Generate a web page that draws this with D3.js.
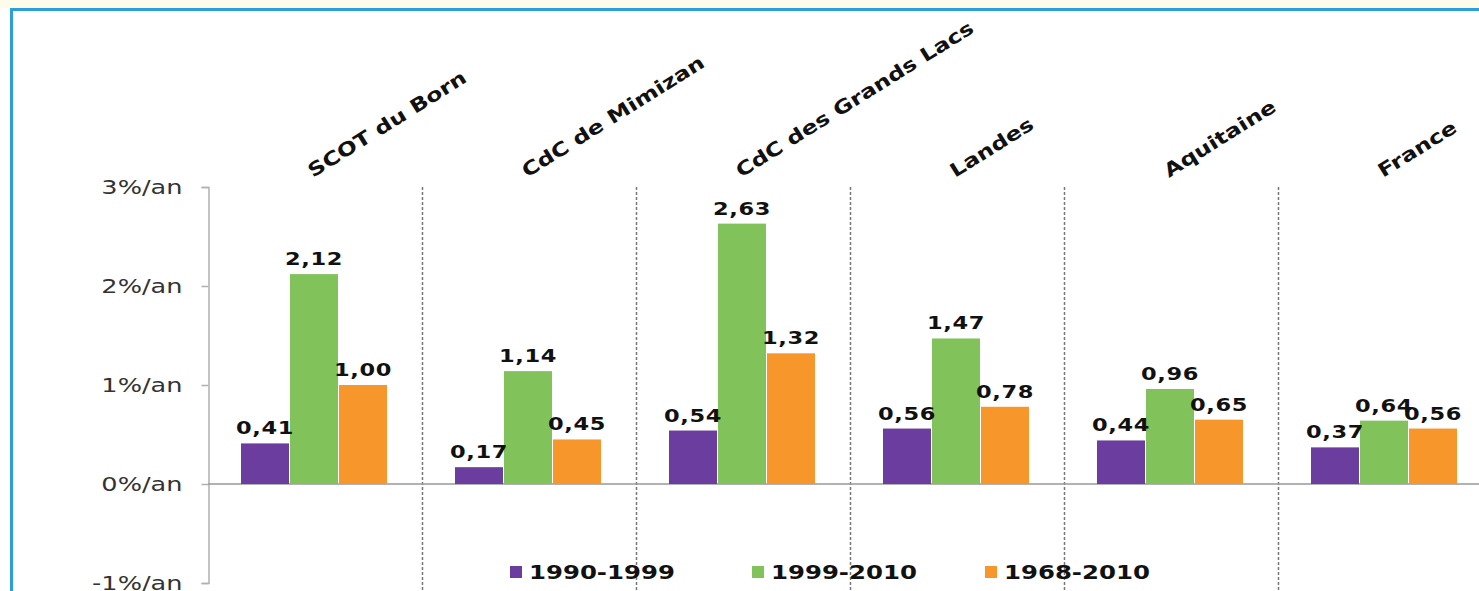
<!DOCTYPE html>
<html>
<head>
<meta charset="utf-8">
<script src="https://cdnjs.cloudflare.com/ajax/libs/d3/7.8.5/d3.min.js"></script>
<style>
  html, body { margin: 0; padding: 0; background: #fff; }
  svg { display: block; }
</style>
</head>
<body>
<div id="chart"></div>
<script>
// données
const categories = ["SCOT du Born", "CdC de Mimizan", "CdC des Grands Lacs", "Landes", "Aquitaine", "France"];
const series = ["1990-1999", "1999-2010", "1968-2010"];
const v1990_1999 = [0.41, 0.17, 0.54, 0.56, 0.44, 0.37];
const v1999_2010 = [2.12, 1.14, 2.63, 1.47, 0.96, 0.64];
const v1968_2010 = [1.00, 0.45, 1.32, 0.78, 0.65, 0.56];
const yTicks = [-1, 0, 1, 2, 3];
const colors = ["#6a3d9e", "#82c25a", "#f7962b"];

const values = [v1990_1999, v1999_2010, v1968_2010];
const W = 1479, H = 591;
const font = "'DejaVu Sans', Verdana, sans-serif";
const sx = 1.25; // le texte de l'original est étiré en largeur
const legendX = [510, 752, 985];

const svg = d3.select("#chart").append("svg")
    .attr("width", W)
    .attr("height", H);

// fond et cadre
svg.append("rect").attr("x", 0).attr("y", 0).attr("width", W).attr("height", 8).attr("fill", "#fdfbe9");
svg.append("rect")
    .attr("x", 11.5).attr("y", 9.5)
    .attr("width", W + 20).attr("height", H + 20)
    .attr("fill", "#fff")
    .attr("stroke", "#2b9fd9")
    .attr("stroke-width", 3);

// échelles
const y = d3.scaleLinear().domain([-1, 3]).range([583, 187]);
const x = d3.scaleBand().domain(categories).range([208, 208 + 6 * 214]);
const xs = d3.scaleBand().domain(series).range([33, 179]).paddingInner(0.02);

// séparateurs pointillés
svg.append("g").selectAll("line")
  .data(categories.slice(1))
  .join("line")
    .attr("x1", d => x(d) + 0.5).attr("x2", d => x(d) + 0.5)
    .attr("y1", 187).attr("y2", H)
    .attr("stroke", "#777")
    .attr("stroke-width", 1.5)
    .attr("stroke-dasharray", "3,2");

// axe Y
const yAxis = d3.axisLeft(y)
    .tickValues(yTicks)
    .tickSize(7)
    .tickPadding(18)
    .tickFormat(d => d + "%/an");

const gy = svg.append("g")
    .attr("transform", "translate(208.5,0)")
    .call(yAxis);
gy.select(".domain").attr("stroke", "#b0b0b0").attr("stroke-width", 1.5);
gy.selectAll(".tick line").attr("stroke", "#b0b0b0").attr("stroke-width", 1.5);
gy.selectAll(".tick text")
    .attr("x", -26 / 1.28)
    .attr("transform", "scale(1.28,1)")
    .attr("fill", "#333")
    .style("font-family", font)
    .style("font-size", "20px");

// ligne du zéro
svg.append("line")
    .attr("x1", 208).attr("x2", W)
    .attr("y1", y(0)).attr("y2", y(0))
    .attr("stroke", "#999")
    .attr("stroke-width", 1.5);

// barres
const groups = svg.append("g").selectAll("g")
  .data(categories)
  .join("g")
    .attr("transform", d => "translate(" + x(d) + ",0)");

groups.selectAll("rect")
  .data((d, i) => series.map((s, j) => ({ s: s, v: values[j][i], j: j })))
  .join("rect")
    .attr("x", d => xs(d.s))
    .attr("width", xs.bandwidth())
    .attr("y", d => y(Math.max(0, d.v)))
    .attr("height", d => Math.abs(y(d.v) - y(0)))
    .attr("fill", d => colors[d.j]);

groups.selectAll("text")
  .data((d, i) => series.map((s, j) => ({ s: s, v: values[j][i], j: j })))
  .join("text")
    .attr("transform", d => "translate(" + (xs(d.s) + xs.bandwidth() / 2) + "," + (y(d.v) - 9) + ") scale(" + sx + ",1)")
    .attr("text-anchor", "middle")
    .style("font-family", font)
    .style("font-weight", "bold")
    .style("font-size", "18px")
    .style("letter-spacing", "0.5px")
    .attr("fill", "#111")
    .text(d => d3.format(".2f")(d.v).replace(".", ","));

// libellés des catégories
svg.append("g").selectAll("text")
  .data(categories)
  .join("text")
    .attr("transform", d => "translate(" + (x(d) + x.bandwidth() / 2 - 2) + ",178) rotate(-32) scale(1.24,1)")
    .style("font-family", font)
    .style("font-weight", "bold")
    .style("font-size", "19px")
    .attr("fill", "#111")
    .text(d => d);

// légende
const legend = svg.append("g").selectAll("g")
  .data(series)
  .join("g")
    .attr("transform", (d, i) => "translate(" + legendX[i] + ",566)");

legend.append("rect")
    .attr("width", 12).attr("height", 12)
    .attr("fill", (d, i) => colors[i]);

legend.append("text")
    .attr("transform", "translate(19,13) scale(1.22,1)")
    .style("font-family", font)
    .style("font-weight", "bold")
    .style("font-size", "20px")
    .attr("fill", "#111")
    .text(d => d);
</script>
</body>
</html>
